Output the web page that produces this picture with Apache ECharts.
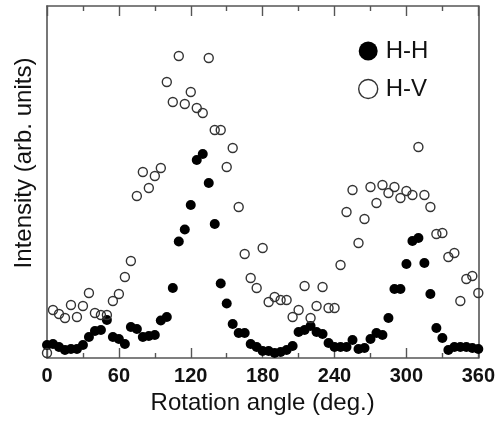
<!DOCTYPE html>
<html>
<head>
<meta charset="utf-8">
<script src="https://cdn.jsdelivr.net/npm/echarts@6/dist/echarts.min.js"></script>
<style>
  html, body { margin: 0; padding: 0; background: #fff; }
  #chart { width: 498px; height: 421px; }
</style>
</head>
<body>
<div id="chart"></div>
<script>
// rotation angles, every 5 degrees
const angles = []
for (let a = 0; a <= 360; a += 5) angles.push(a)

// intensities (arb. units)
const hhValues = [
  13, 14, 11, 8, 9, 9, 13, 21, 27, 28, 38, 21, 19, 14, 31, 29, 21, 22, 23, 37.5,
  41, 70, 116.5, 128.5, 153, 198, 204, 175, 134, 74.5, 54.5, 34, 25, 25, 14, 11,
  7, 7, 5, 6, 8, 12, 26, 28, 32, 26, 24, 15, 11, 11, 11, 18, 9, 10, 19, 25,
  23, 40, 69, 69, 94, 117, 120, 95, 64, 30, 20, 8, 11, 11, 11, 10, 9
]
const hvValues = [
  5, 48, 44, 40, 53, 41, 52, 65, 45, 43, 43, 57, 64, 81, 97, 162, 186, 170, 182, 190,
  276, 256, 302, 254, 266, 250, 245, 300, 228, 228, 191, 210, 151, 104, 80, 70,
  110, 56, 61, 58, 58, 41, 48, 72, 40, 52, 71, 50, 50, 93, 146, 168, 115, 139,
  171, 155, 173, 165, 171, 160, 167, 163, 211, 163, 151, 124, 125, 101, 105, 57,
  79, 82, 65
]

const seriesNames = ['H-H', 'H-V']
const xTickLabels = [0, 60, 120, 180, 240, 300, 360]

const font = '"Liberation Sans", Arial, Helvetica, sans-serif'
const axisColor = '#555'

function pairs(vals) {
  return angles.map((a, i) => [a, vals[i]])
}

function xAxisBase(pos) {
  return {
    type: 'value',
    position: pos,
    min: xTickLabels[0],
    max: xTickLabels[xTickLabels.length - 1],
    interval: 60,
    splitLine: { show: false },
    axisLine: { show: true, onZero: false, lineStyle: { color: axisColor, width: 1.6 } },
    axisTick: { show: true, inside: true, length: 10, lineStyle: { color: axisColor, width: 1.4 } },
    minorTick: { show: true, splitNumber: 2, length: 5, lineStyle: { color: axisColor, width: 1.4 } },
    minorSplitLine: { show: false }
  }
}

function yAxisBase(pos) {
  return {
    type: 'value',
    position: pos,
    min: 0,
    max: 352,
    splitLine: { show: false },
    axisLine: { show: true, onZero: false, lineStyle: { color: axisColor, width: 1.6 } },
    axisTick: { show: false },
    axisLabel: { show: false }
  }
}

const chart = echarts.init(document.getElementById('chart'))

chart.setOption({
  animation: false,
  backgroundColor: '#fff',
  grid: { left: 47, right: 16, top: 6, bottom: 63, show: false },
  legend: {
    orient: 'vertical',
    left: 353,
    top: 34,
    itemWidth: 19,
    itemHeight: 19,
    itemGap: 14,
    icon: 'circle',
    textStyle: { fontFamily: font, fontSize: 24, color: '#111', padding: [0, 0, 0, 3] },
    data: [
      { name: seriesNames[0], itemStyle: { color: '#000', borderWidth: 0 } },
      { name: seriesNames[1], itemStyle: { color: '#fff', borderColor: '#333', borderWidth: 1.4 } }
    ]
  },
  xAxis: [
    Object.assign(xAxisBase('bottom'), {
      name: 'Rotation angle (deg.)',
      nameLocation: 'middle',
      nameGap: 30,
      nameTextStyle: { fontFamily: font, fontSize: 24, color: '#111' },
      axisLabel: { show: true, margin: 8, fontFamily: font, fontSize: 20, fontWeight: 'bold', color: '#111' }
    }),
    Object.assign(xAxisBase('top'), {
      axisLabel: { show: false }
    })
  ],
  yAxis: [
    Object.assign(yAxisBase('left'), {
      name: 'Intensity (arb. units)',
      nameLocation: 'middle',
      nameGap: 11,
      nameTextStyle: { fontFamily: font, fontSize: 24, color: '#111', padding: [0, 0, 0, 38] }
    }),
    yAxisBase('right')
  ],
  series: [
    {
      name: seriesNames[0],
      type: 'scatter',
      symbol: 'circle',
      symbolSize: 10,
      itemStyle: { color: '#000', opacity: 1 },
      data: pairs(hhValues)
    },
    {
      name: seriesNames[1],
      type: 'scatter',
      symbol: 'circle',
      symbolSize: 9,
      itemStyle: { color: 'rgba(255,255,255,0)', borderColor: '#333', borderWidth: 1.4, opacity: 1 },
      data: pairs(hvValues)
    }
  ]
})
</script>
</body>
</html>
